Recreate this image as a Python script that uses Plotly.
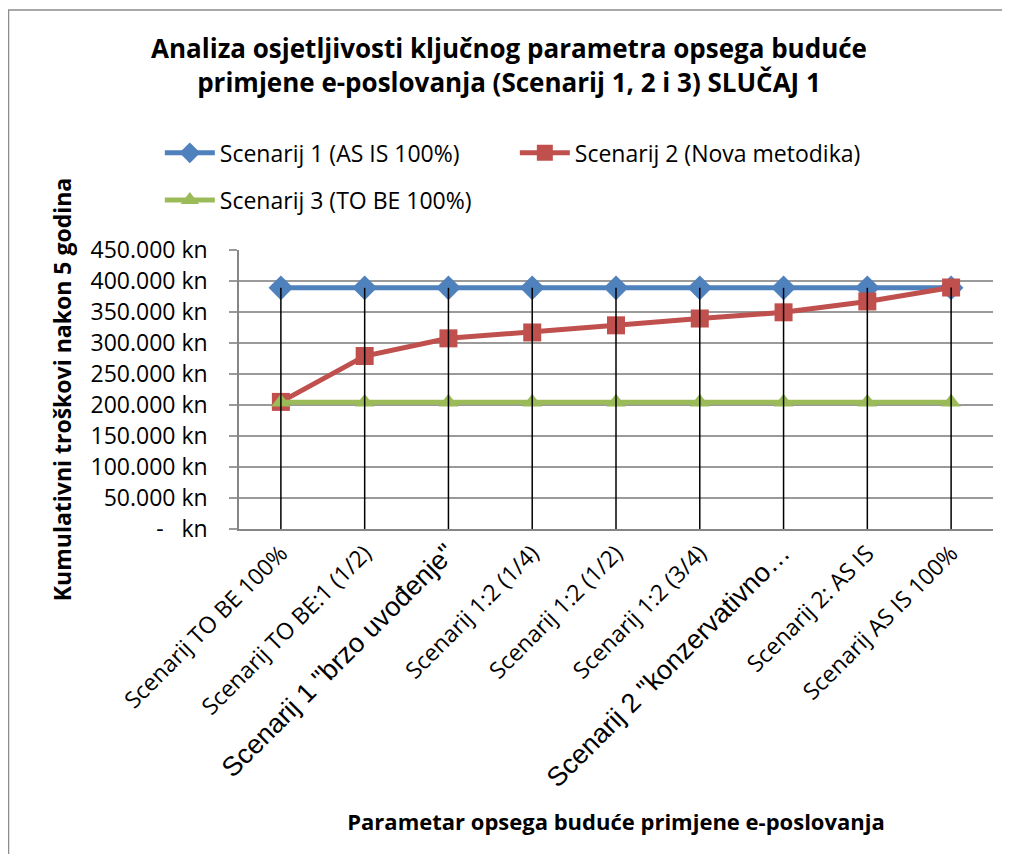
import plotly.graph_objects as go

# --- data ---
categories = [
    "Scenarij TO BE 100%",
    "Scenarij TO BE:1 (1/2)",
    'Scenarij 1 "brzo uvođenje"',
    "Scenarij 1:2 (1/4)",
    "Scenarij 1:2 (1/2)",
    "Scenarij 1:2 (3/4)",
    'Scenarij 2 "konzervativno…',
    "Scenarij 2: AS IS",
    "Scenarij AS IS 100%",
]
scenarij_1 = [389000] * 9
scenarij_2 = [205000, 279000, 307500, 317000, 328500, 339500, 349500, 367000, 389500]
scenarij_3 = [204500] * 9

y_ticks = [0, 50000, 100000, 150000, 200000, 250000, 300000, 350000, 400000, 450000]
y_ticktext = ["-   kn"] + [f"{v:,.0f} kn".replace(",", ".") for v in y_ticks[1:]]

# two labels are drawn in a different (Arial-like) font in the original
big_labels = {'Scenarij 1 "brzo uvođenje"', 'Scenarij 2 "konzervativno…'}
x_ticktext = [
    f'<span style="font-family:Liberation Sans;font-size:27px">{c}</span>'
    if c in big_labels else c
    for c in categories
]

FONT = "Open Sans, DejaVu Sans, sans-serif"

fig = go.Figure()

series = [
    ("Scenarij 1 (AS IS 100%)", scenarij_1, "#4F81BD", "diamond", 19, "legend"),
    ("Scenarij 2 (Nova metodika)", scenarij_2, "#C0504D", "square", 18, "legend"),
    ("Scenarij 3 (TO BE 100%)", scenarij_3, "#9BBB59", "triangle-up", 17, "legend2"),
]
for name, vals, color, symbol, size, leg in series:
    fig.add_trace(go.Scatter(
        x=categories, y=vals, name=name, mode="lines+markers",
        line=dict(color=color, width=5),
        marker=dict(symbol=symbol, size=size, color=color),
        legend=leg,
    ))

# drop lines: from the highest series value down to the axis
drop_x, drop_y = [], []
for i, c in enumerate(categories):
    top = max(scenarij_1[i], scenarij_2[i], scenarij_3[i])
    drop_x += [c, c, None]
    drop_y += [0, top, None]
fig.add_trace(go.Scatter(
    x=drop_x, y=drop_y, mode="lines", showlegend=False, hoverinfo="skip",
    line=dict(color="black", width=1.5),
))

legend_style = dict(
    orientation="h", xanchor="left", yanchor="middle",
    font=dict(family=FONT, size=23, color="black"), itemwidth=50,
    bgcolor="rgba(0,0,0,0)",
)

# page body adds an 8px offset, so the figure is 8px smaller than the window
fig.update_layout(
    width=1002, height=846,
    margin=dict(l=231, r=17, t=242, b=325, autoexpand=False),
    paper_bgcolor="white", plot_bgcolor="white",
    font=dict(family=FONT, size=23, color="black"),
    title=dict(
        text="Analiza osjetljivosti ključnog parametra opsega buduće<br>"
             "primjene e-poslovanja (Scenarij 1, 2 i 3) SLUČAJ 1",
        x=0.5, xanchor="center", y=0.941, yanchor="top",
        font=dict(family=FONT, size=26, color="black", weight="bold"),
    ),
    legend=dict(x=-0.105, y=1.348, entrywidth=290, **legend_style),
    legend2=dict(x=-0.105, y=1.179, **legend_style),
    xaxis=dict(
        tickmode="array", tickvals=categories, ticktext=x_ticktext,
        tickangle=-45, showgrid=False, showline=True, linecolor="#868686",
        linewidth=1.5, ticks="", range=[-0.5, 8.5], automargin=False,
        tickfont=dict(family=FONT, size=23),
        title=dict(text="<b>Parametar opsega buduće primjene e-poslovanja</b>",
                   font=dict(family=FONT, size=22), standoff=23),
    ),
    yaxis=dict(
        range=[0, 450000], tickvals=y_ticks, ticktext=y_ticktext,
        showgrid=True, gridcolor="#9a9a9a", gridwidth=1.5,
        showline=True, linecolor="#868686", linewidth=1.5,
        ticks="outside", ticklen=8, tickcolor="#9a9a9a", tickwidth=1.5,
        ticklabelstandoff=17, automargin=False,
        tickfont=dict(family=FONT, size=23),
        title=dict(text="<b>Kumulativni troškovi nakon 5 godina</b>",
                   font=dict(family=FONT, size=23), standoff=12),
        zeroline=False,
    ),
    shapes=[dict(
        type="rect", xref="paper", yref="paper",
        x0=-0.3057, x1=2.0, y0=-3.0, y1=1.860,
        line=dict(color="#8c8c8c", width=1.5), fillcolor="rgba(0,0,0,0)",
        layer="below",
    )],
)

fig.write_html("out.html")
